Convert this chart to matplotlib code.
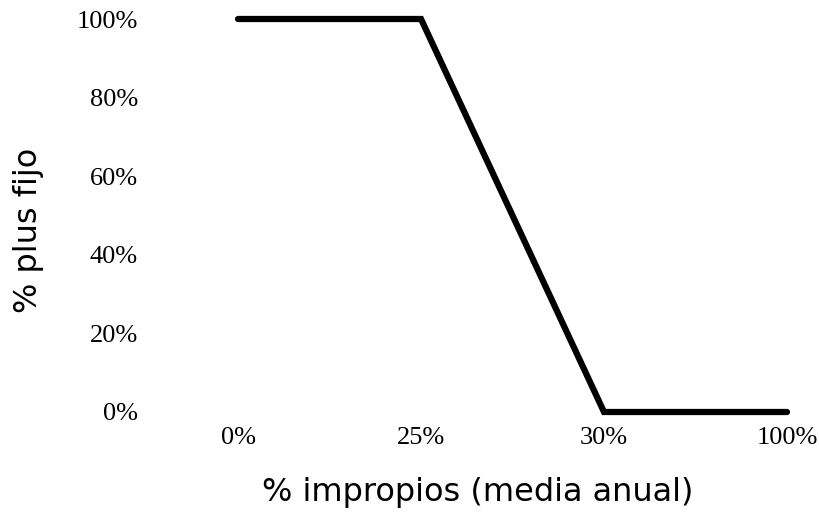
import matplotlib
matplotlib.use('Agg')
import matplotlib.pyplot as plt

categorias = ['0%', '25%', '30%', '100%']
plus_fijo = [100, 100, 0, 0]
y_ticks = [0, 20, 40, 60, 80, 100]
y_labels = ['0%', '20%', '40%', '60%', '80%', '100%']

fig = plt.figure(figsize=(8.19, 5.12), dpi=100)
ax = fig.add_axes([238 / 819, 1 - 412 / 512, (787 - 238) / 819, (412 - 19) / 512])

x = list(range(len(categorias)))
ax.plot(x, plus_fijo, color='black', linewidth=4.5, solid_capstyle='round',
        solid_joinstyle='miter', clip_on=False)

ax.set_xlim(0, len(categorias) - 1)
ax.set_ylim(0, 100)
ax.set_xticks(x)
ax.set_xticklabels(categorias, fontfamily='Liberation Serif', fontsize=19)
ax.set_yticks(y_ticks)
ax.set_yticklabels(y_labels, fontfamily='Liberation Serif', fontsize=19)
ax.tick_params(length=0)
ax.tick_params(axis='y', pad=72)
ax.tick_params(axis='x', pad=11)

for s in ax.spines.values():
    s.set_visible(False)

ax.set_xlabel('% impropios (media anual)', fontfamily='DejaVu Sans', fontsize=23,
              verticalalignment='center')
ax.xaxis.set_label_coords(0.437, -0.206)
ax.set_ylabel('% plus fijo', fontfamily='DejaVu Sans', fontsize=23,
              verticalalignment='center')
ax.yaxis.set_label_coords(-0.381, 0.463)

fig.savefig('out.png', dpi=100)
